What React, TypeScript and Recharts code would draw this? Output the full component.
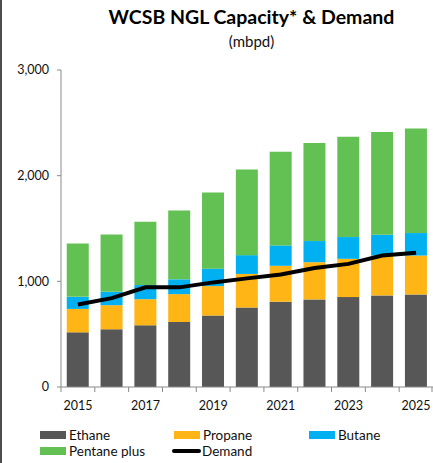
import React from "react";
import { ComposedChart, Bar, Line, XAxis, YAxis, Legend } from "recharts";

const years = ["2015", "2016", "2017", "2018", "2019", "2020", "2021", "2022", "2023", "2024", "2025"];
const ethane = [517, 546, 584, 615, 676, 752, 807, 829, 851, 867, 876];
const propane = [222, 228, 247, 264, 279, 318, 340, 352, 362, 377, 368];
const butane = [114, 127, 134, 140, 165, 178, 193, 200, 206, 197, 213];
const pentanePlus = [505, 543, 600, 651, 721, 810, 886, 928, 950, 972, 990];
const demand = [781, 841, 943, 943, 990, 1028, 1064, 1127, 1165, 1244, 1270];
const yTicks = [0, 1000, 2000, 3000];

const data = years.map((y, i) => ({
  year: y,
  Ethane: ethane[i],
  Propane: propane[i],
  Butane: butane[i],
  "Pentane plus": pentanePlus[i],
  Demand: demand[i],
}));

const COLORS = {
  Ethane: "#575757",
  Propane: "#FFB515",
  Butane: "#00B0F0",
  Pentane: "#62C152",
};

const FONT = "Lato, 'Open Sans', sans-serif";
const W = 433;
const H = 463;
const PLOT_LEFT = 61;
const BAND = (W - PLOT_LEFT) / years.length;

const XTick = (props: any) => {
  const { x, y, payload, index } = props;
  const show = index % 2 === 0;
  return (
    <g>
      <line x1={x - BAND / 2} x2={x - BAND / 2} y1={y - 8} y2={y - 3} stroke="#898989" strokeWidth={1} />
      {index === years.length - 1 && (
        <line x1={x + BAND / 2 - 1} x2={x + BAND / 2 - 1} y1={y - 8} y2={y - 3} stroke="#898989" strokeWidth={1} />
      )}
      {show && (
        <text x={x} y={y + 15} textAnchor="middle" fontSize={12.5} fontFamily={FONT} fill="#111">
          {payload.value}
        </text>
      )}
    </g>
  );
};

const LegendContent = () => {
  const item = (left: number, top: number, label: string, color: string, isLine = false) => (
    <div key={label} style={{ position: "absolute", left, top, display: "flex", alignItems: "center", height: 16 }}>
      {isLine ? (
        <div style={{ width: 29, height: 4, background: "#000", borderRadius: 2, marginRight: 1 }} />
      ) : (
        <div style={{ width: 26, height: 8, background: color, marginRight: 3 }} />
      )}
      <span style={{ fontFamily: FONT, fontSize: 13.5, color: "#111", whiteSpace: "nowrap" }}>{label}</span>
    </div>
  );
  return (
    <div style={{ position: "relative", width: W, height: 36 }}>
      {item(40, 0, "Ethane", COLORS.Ethane)}
      {item(174, 0, "Propane", COLORS.Propane)}
      {item(309, 0, "Butane", COLORS.Butane)}
      {item(40, 16, "Pentane plus", COLORS.Pentane)}
      {item(172, 16, "Demand", "#000", true)}
    </div>
  );
};

export default function App() {
  return (
    <div style={{ position: "fixed", left: 0, top: 0, width: W, height: H, background: "#fff" }}>
      <div style={{ position: "absolute", left: 0, top: 0, width: 2, height: H, background: "#4d4d4d" }} />
      <div
        style={{
          position: "absolute",
          left: 0,
          width: W,
          top: 5,
          paddingLeft: 70,
          boxSizing: "border-box",
          textAlign: "center",
          fontFamily: FONT,
          fontWeight: 700,
          fontSize: 19.5,
          color: "#000",
        }}
      >
        WCSB NGL Capacity* &amp; Demand
      </div>
      <div
        style={{
          position: "absolute",
          left: 0,
          width: W,
          top: 32,
          paddingLeft: 70,
          boxSizing: "border-box",
          textAlign: "center",
          fontFamily: FONT,
          fontSize: 15,
          color: "#111",
        }}
      >
        (mbpd)
      </div>
      <ComposedChart
        width={W}
        height={H}
        data={data}
        margin={{ top: 70, right: 0, left: 0, bottom: 10 }}
        barCategoryGap="17%"
      >
        <XAxis
          dataKey="year"
          interval={0}
          tickLine={false}
          axisLine={{ stroke: "#898989" }}
          tick={<XTick />}
          height={30}
        />
        <YAxis
          width={PLOT_LEFT}
          domain={[0, 3000]}
          ticks={yTicks}
          tickFormatter={(v: number) => v.toLocaleString("en-US")}
          axisLine={{ stroke: "#898989" }}
          tickLine={{ stroke: "#898989" }}
          tickSize={4}
          tickMargin={8}
          tick={{ fontSize: 12.5, fontFamily: FONT, fill: "#111" }}
        />
        <Legend
          verticalAlign="bottom"
          content={<LegendContent />}
          wrapperStyle={{ left: 0, width: W, height: 36, bottom: 0 }}
        />
        <Bar dataKey="Ethane" stackId="a" fill={COLORS.Ethane} isAnimationActive={false} />
        <Bar dataKey="Propane" stackId="a" fill={COLORS.Propane} isAnimationActive={false} />
        <Bar dataKey="Butane" stackId="a" fill={COLORS.Butane} isAnimationActive={false} />
        <Bar dataKey="Pentane plus" stackId="a" fill={COLORS.Pentane} isAnimationActive={false} />
        <Line
          dataKey="Demand"
          stroke="#000"
          strokeWidth={4}
          dot={false}
          type="linear"
          isAnimationActive={false}
        />
      </ComposedChart>
    </div>
  );
}
